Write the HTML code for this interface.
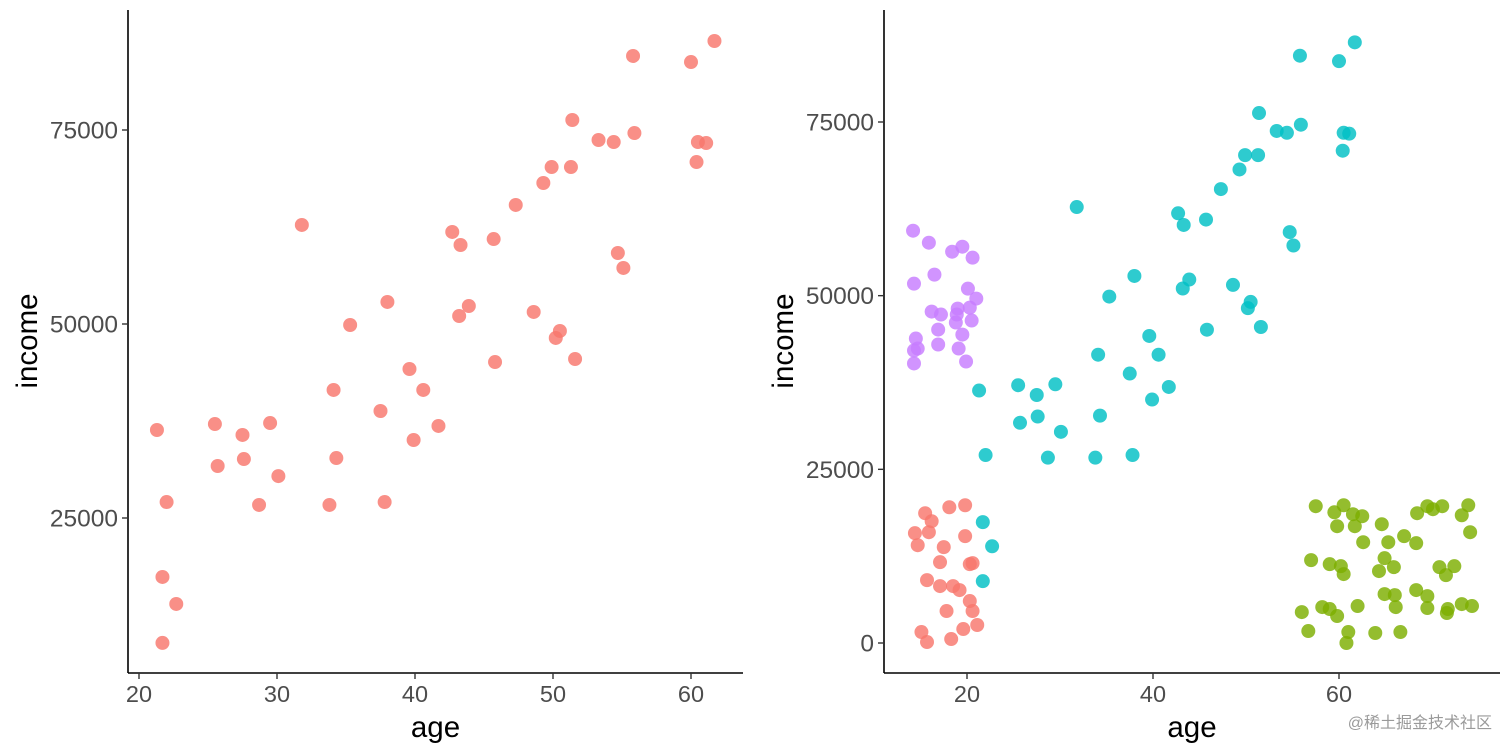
<!DOCTYPE html>
<html><head><meta charset="utf-8"><style>
html,body{margin:0;padding:0;background:#fff;width:1512px;height:756px;overflow:hidden}
svg{display:block;font-family:"Liberation Sans","Noto Sans CJK SC",sans-serif}
</style></head><body>
<svg id="chart" width="1512" height="756"></svg>
<script>
const ages=[21.3,22.0,21.7,22.7,21.7,25.5,25.7,27.5,27.6,28.7,29.5,30.1,31.8,33.8,34.1,34.3,35.3,37.5,37.8,38.0,39.6,39.9,40.6,41.7,42.7,43.3,43.2,43.9,45.7,45.8,47.3,48.6,49.3,49.9,50.2,50.5,51.3,51.4,51.6,53.3,54.4,54.7,55.1,55.8,55.9,60.0,60.4,60.5,61.1,61.7];
const incomes=[36340,27060,17400,13920,8900,37110,31700,35700,32600,26680,37240,30400,62760,26680,41500,32730,49870,38790,27060,52840,44200,35050,41500,36860,61860,60180,51030,52320,60950,45100,65340,51550,68170,70230,48200,49100,70230,76290,45490,73710,73450,59150,57220,84540,74610,83760,70870,73450,73320,86470];
const purpleAges=[14.2,15.9,18.4,19.5,20.6,14.3,16.5,20.1,21.0,16.2,17.2,19.0,18.9,20.3,18.8,20.5,16.9,19.5,14.5,14.7,14.3,16.9,19.1,14.3,19.9];
const purpleIncomes=[59350,57620,56330,57050,55470,51730,53030,51010,49580,47710,47280,48140,47280,48280,46130,46420,45120,44400,43830,42390,42100,42970,42390,40240,40520];
const redAges=[15.5,16.2,18.1,19.8,14.4,15.9,14.7,19.8,17.5,17.1,20.3,20.6,15.7,17.1,18.5,19.2,20.3,20.6,17.8,15.1,15.7,18.3,19.6,21.1];
const redIncomes=[18680,17530,19540,19830,15810,15950,14080,15380,13800,11640,11350,11500,9050,8190,8190,7620,6040,4600,4600,1580,140,570,2010,2590];
const greenAges=[57.5,59.5,60.5,61.5,62.5,59.8,61.7,64.6,68.4,69.5,70.1,71.1,73.9,73.2,74.1,62.6,65.3,67.0,68.3,57.0,59.0,60.2,60.5,64.9,64.3,65.9,70.8,72.4,71.5,64.9,66.0,66.1,68.3,69.5,69.5,56.0,58.2,59.0,59.8,62.0,71.7,71.6,73.2,74.3,56.7,61.0,60.8,63.9,66.6];
const greenIncomes=[19690,18820,19830,18540,18250,16810,16810,17100,18680,19690,19260,19690,19830,18390,15950,14510,14510,15380,14370,11930,11350,11060,9920,12210,10350,10920,10920,11060,9770,7040,6900,5170,7620,6750,5030,4450,5170,4890,3880,5320,4890,4310,5600,5320,1720,1580,0,1440,1580];
const leftXTicks=[20,30,40,50,60];
const leftYTicks=[25000,50000,75000];
const rightXTicks=[20,40,60];
const rightYTicks=[0,25000,50000,75000];

const NS="http://www.w3.org/2000/svg";
const svg=document.getElementById('chart');
function mk(tag,attrs,parent){const e=document.createElementNS(NS,tag);for(const k in attrs)e.setAttribute(k,attrs[k]);(parent||svg).appendChild(e);return e;}

function panel(name,x0,x1,xa,xb,ya,yb,xTicks,yTicks,series){
  const g=mk('g',{});
  
  
  const xs=v=>xa.p+(v-xa.v)*(xb.p-xa.p)/(xb.v-xa.v);
  const ys=v=>ya.p+(v-ya.v)*(yb.p-ya.p)/(yb.v-ya.v);
  series.forEach(s=>{
    const sg=mk('g',{},g);
    
    
    s.xs.forEach((a,i)=>{
      const c=mk('circle',{cx:xs(a),cy:ys(s.ys[i]),r:7,fill:s.color,'fill-opacity':0.82},sg);
      
      
    });
  });
  const ax=mk('line',{x1:x0,y1:10,x2:x0,y2:673,stroke:'#000','stroke-width':1.6},g);
  
  
  const bx=mk('line',{x1:x0,y1:673,x2:x1,y2:673,stroke:'#000','stroke-width':1.6},g);
  
  
  xTicks.forEach(t=>{
    const px=xs(t);
    mk('line',{x1:px,y1:673,x2:px,y2:679,stroke:'#333','stroke-width':1.4},g);
    const tx=mk('text',{x:px,y:702,'text-anchor':'middle','font-size':23.5,fill:'#4d4d4d'},g);
    tx.textContent=t;
    
    
  });
  yTicks.forEach(t=>{
    const py=ys(t);
    mk('line',{x1:x0-6,y1:py,x2:x0,y2:py,stroke:'#333','stroke-width':1.4},g);
    const tx=mk('text',{x:x0-10,y:py+8.5,'text-anchor':'end','font-size':24.5,fill:'#4d4d4d'},g);
    tx.textContent=t;
    
    
  });
  const xt=mk('text',{x:(x0+x1)/2,y:737,'text-anchor':'middle','font-size':29.5,fill:'#000'},g);
  xt.textContent='age';
  
  
  const yx=x0-91, yy=341;
  const yt=mk('text',{x:yx,y:yy,'text-anchor':'middle','font-size':29.5,fill:'#000',transform:`rotate(-90 ${yx} ${yy})`},g);
  yt.textContent='income';
  
  
}
panel('left-panel',128,743,{v:20,p:139},{v:60,p:691},{v:25000,p:518},{v:75000,p:130},leftXTicks,leftYTicks,
  [{name:'series-all',xs:ages,ys:incomes,color:'#F8766D'}]);
panel('right-panel',884,1500,{v:20,p:967},{v:60,p:1339},{v:0,p:643},{v:75000,p:122},rightXTicks,rightYTicks,
  [{name:'cluster-red',xs:redAges,ys:redIncomes,color:'#F8766D'},
   {name:'cluster-green',xs:greenAges,ys:greenIncomes,color:'#7CAE00'},
   {name:'cluster-cyan',xs:ages,ys:incomes,color:'#00BFC4'},
   {name:'cluster-purple',xs:purpleAges,ys:purpleIncomes,color:'#C77CFF'}]);
const wm=mk('text',{x:1492,y:728,'text-anchor':'end','font-size':16,fill:'#9a9a9a'});
wm.textContent='@稀土掘金技术社区';


</script>
</body></html>
